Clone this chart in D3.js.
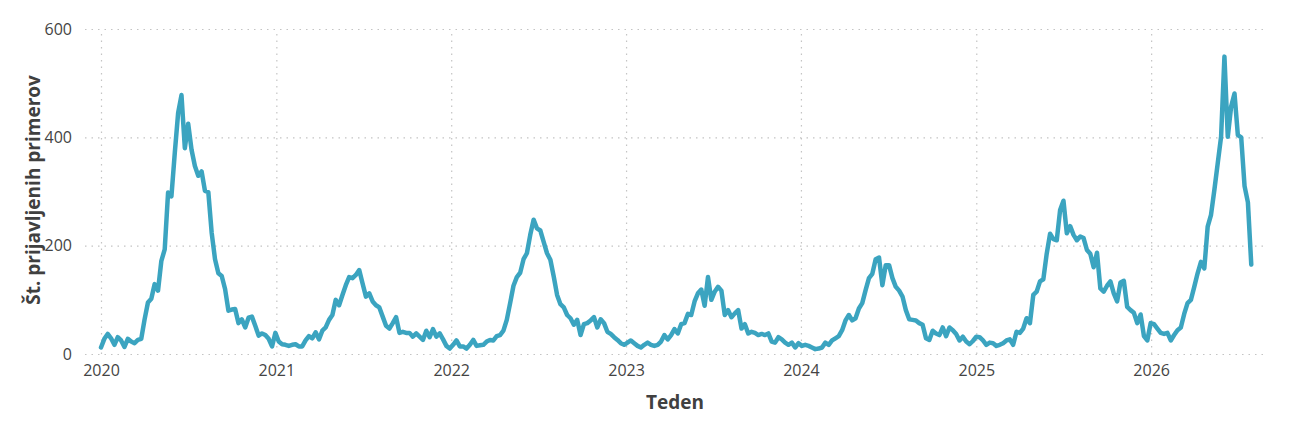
<!DOCTYPE html>
<html>
<head>
<meta charset="utf-8">
<script src="https://cdn.jsdelivr.net/npm/d3@7"></script>
<style>
    body { margin: 0; background: #fff; }
    svg { font-family: "Open Sans", "Noto Sans", sans-serif; }
</style>
</head>
<body>
<script>
// tedenski podatki po sezonah (vrednosti odčitane s slike)
let sezona2020 = [12, 28, 37, 29, 17, 31, 25, 13, 28, 23, 20, 26, 28, 64, 95, 102, 129, 117, 172, 193,
    298, 291, 371, 445, 478, 380, 425, 377, 347, 329, 337, 301, 299, 224, 175, 149, 144, 120, 80, 82,
    83, 57, 64, 49, 67, 69, 52, 34, 38, 35, 28, 14, 39];
let sezona2021 = [23, 18, 17, 15, 17, 18, 14, 14, 25, 33, 29, 40, 27, 43, 49, 63, 72, 100, 90, 109,
    127, 142, 140, 146, 155, 130, 106, 112, 97, 90, 86, 69, 52, 47, 57, 68, 39, 41, 39, 39,
    32, 38, 32, 26, 43, 31, 46, 32, 38, 27, 15];
let sezona2022 = [10, 17, 25, 14, 14, 10, 17, 26, 15, 16, 17, 23, 26, 25, 33, 35, 43, 63, 94, 126,
    142, 150, 175, 186, 220, 248, 232, 228, 207, 186, 174, 143, 109, 92, 86, 72, 66, 54, 63, 35,
    55, 57, 62, 68, 49, 64, 57, 41, 37, 31, 26, 20];
let sezona2023 = [17, 21, 25, 20, 15, 12, 17, 21, 17, 15, 17, 23, 35, 27, 35, 46, 38, 55, 57, 74,
    72, 97, 112, 119, 89, 142, 100, 115, 124, 117, 72, 81, 68, 75, 81, 47, 55, 38, 41, 39,
    35, 37, 35, 38, 23, 21, 31, 27, 21, 17, 21, 12];
let sezona2024 = [20, 15, 17, 15, 12, 9, 10, 12, 21, 17, 25, 29, 33, 44, 62, 72, 62, 66, 84, 94,
    118, 140, 148, 175, 178, 127, 164, 164, 140, 124, 117, 106, 81, 64, 63, 62, 57, 54, 29, 26,
    43, 38, 35, 49, 33, 49, 44, 37, 25, 32, 23, 18];
let sezona2025 = [24, 32, 31, 25, 17, 21, 20, 15, 17, 20, 25, 27, 17, 41, 39, 47, 66, 57, 109, 115,
    134, 138, 185, 222, 212, 210, 266, 283, 223, 236, 220, 210, 217, 214, 192, 185, 160, 187, 121, 115,
    126, 134, 112, 97, 132, 135, 87, 81, 76, 57, 73];
let sezona2026 = [33, 25, 57, 55, 47, 39, 37, 39, 25, 35, 44, 49, 74, 94, 100, 124, 149, 170, 158, 235,
    257, 303, 352, 401, 549, 401, 457, 481, 404, 400, 310, 280, 165];

let casos = [].concat(sezona2020, sezona2021, sezona2022, sezona2023, sezona2024, sezona2025, sezona2026);
let anios = [2020, 2021, 2022, 2023, 2024, 2025, 2026];
let ticksY = [0, 200, 400, 600];
let inicio = new Date(2020, 0, 1);

let w = 1289;
let h = 424;

let svg = d3.select('body')
    .append('svg')
    .attr('width', w)
    .attr('height', h);

// escalas
let x = d3.scaleTime()
    .domain([new Date(2020, 0, 1), new Date(2027, 0, 1)])
    .range([101, 101 + 7 * 175]);

let y = d3.scaleLinear()
    .domain([0, 600])
    .range([354, 29]);

// rejilla horizontal + etiquetas y
svg.append('g')
    .attr('transform', 'translate(85,0)')
    .call(d3.axisLeft(y).tickValues(ticksY).tickSize(-(1265 - 85)).tickPadding(13));

// rejilla vertical + etiquetas x
svg.append('g')
    .attr('transform', 'translate(0,354)')
    .call(d3.axisBottom(x)
        .tickValues(anios.map(a => new Date(a, 0, 1)))
        .tickFormat(d3.timeFormat('%Y'))
        .tickSize(-325)
        .tickPadding(11));

svg.selectAll('.domain').remove();
svg.selectAll('.tick line')
    .attr('stroke', '#c4c4c4')
    .attr('stroke-width', 1.2)
    .attr('stroke-dasharray', '1.5,5');
svg.selectAll('.tick text')
    .attr('fill', '#444')
    .style('font-size', '16px')
    .style('font-family', '"Open Sans", "Noto Sans", sans-serif');

// linea de casos
let linea = d3.line()
    .x((d, i) => x(d3.timeWeek.offset(inicio, i)))
    .y(d => y(d));

svg.append('path')
    .datum(casos)
    .attr('d', linea)
    .attr('fill', 'none')
    .attr('stroke', '#3ba4c0')
    .attr('stroke-width', 4.5)
    .attr('stroke-linejoin', 'round')
    .attr('stroke-linecap', 'round');

// titulos de ejes
svg.append('text')
    .attr('x', 675)
    .attr('y', 409)
    .attr('text-anchor', 'middle')
    .attr('fill', '#404040')
    .style('font-size', '19px')
    .style('font-weight', 'bold')
    .text('Teden');

svg.append('text')
    .attr('transform', 'translate(40,190) rotate(-90)')
    .attr('text-anchor', 'middle')
    .attr('fill', '#404040')
    .style('font-size', '19px')
    .style('font-weight', 'bold')
    .text('Št. prijavljenih primerov');
</script>
</body>
</html>
